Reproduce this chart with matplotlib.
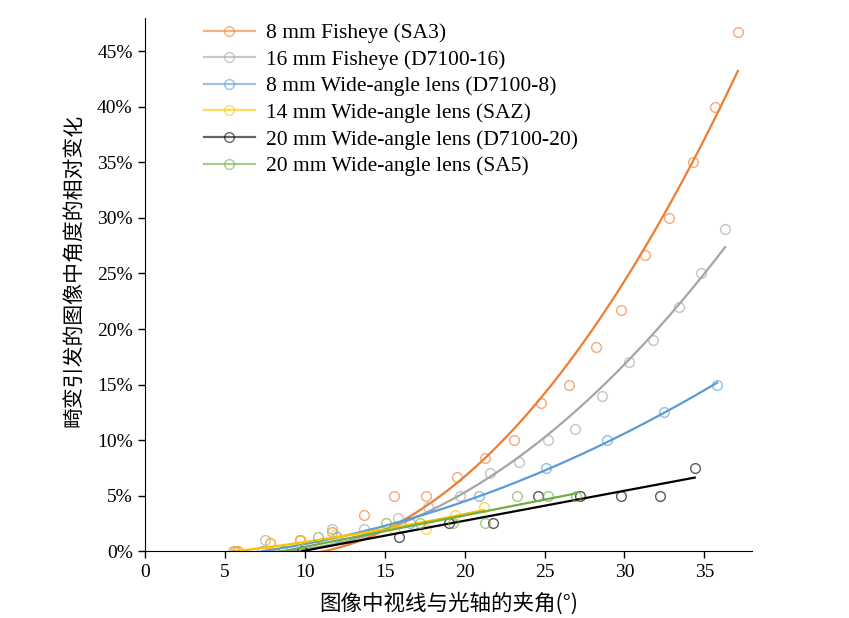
import matplotlib
matplotlib.use("Agg")
import matplotlib.pyplot as plt
import numpy as np
from matplotlib.lines import Line2D
from matplotlib.ticker import FuncFormatter, MultipleLocator

# viewing angle (deg) vs relative change of angle (%)
sa3_x = [5.6, 5.8, 7.8, 9.7, 11.7, 13.7, 15.6, 17.6, 19.5, 21.3, 23.1, 24.8, 26.5,
         28.2, 29.8, 31.3, 32.8, 34.3, 35.7, 37.1]
sa3_y = [0.0, 0.0, 0.7, 1.0, 1.7, 3.3, 5.0, 5.0, 6.7, 8.4, 10.0, 13.3, 15.0,
         18.4, 21.7, 26.7, 30.0, 35.0, 40.0, 46.7]

d16_x = [5.5, 7.5, 9.7, 11.7, 13.7, 15.8, 17.7, 19.7, 21.6, 23.4, 25.2, 26.9,
         28.6, 30.3, 31.8, 33.4, 34.8, 36.3]
d16_y = [0.0, 1.0, 1.0, 2.0, 2.0, 3.0, 4.0, 5.0, 7.0, 8.0, 10.0, 11.0,
         14.0, 17.0, 19.0, 22.0, 25.0, 29.0]

d8_x = [7.3, 12.0, 16.6, 20.9, 25.1, 28.9, 32.5, 35.8]
d8_y = [0.0, 1.25, 2.5, 5.0, 7.5, 10.0, 12.5, 15.0]

saz_x = [5.7, 7.8, 9.7, 11.9, 15.6, 17.6, 19.4, 21.2]
saz_y = [0.0, 0.7, 1.0, 1.5, 2.0, 2.0, 3.3, 4.0]

d20_x = [9.8, 15.9, 19.0, 21.8, 24.6, 27.2, 29.8, 32.2, 34.4]
d20_y = [0.0, 1.3, 2.5, 2.5, 5.0, 5.0, 5.0, 5.0, 7.5]

sa5_x = [8.6, 10.8, 15.1, 17.2, 19.3, 21.3, 23.3, 25.2, 27.0]
sa5_y = [0.0, 1.3, 2.5, 2.5, 2.5, 2.5, 5.0, 5.0, 5.0]

# label, x, y, colour, polynomial degree of the trend line
series = [
    ("8 mm Fisheye (SA3)", sa3_x, sa3_y, "#ED7D31", 2),
    ("16 mm Fisheye (D7100-16)", d16_x, d16_y, "#A5A5A5", 2),
    ("8 mm Wide-angle lens (D7100-8)", d8_x, d8_y, "#5B9BD5", 2),
    ("14 mm Wide-angle lens (SAZ)", saz_x, saz_y, "#FFC000", 2),
    ("20 mm Wide-angle lens (D7100-20)", d20_x, d20_y, "#000000", 1),
    ("20 mm Wide-angle lens (SA5)", sa5_x, sa5_y, "#70AD47", 1),
]


def anchored_fit(xs, ys, deg, xf):
    # least-squares polynomial forced through the first (zero) point
    d = xs - xs[0]
    A = np.column_stack([d ** k for k in range(1, deg + 1)])
    coef, *_ = np.linalg.lstsq(A, ys - ys[0], rcond=None)
    df = xf - xs[0]
    return ys[0] + sum(c * df ** (k + 1) for k, c in enumerate(coef))


serif = ["Liberation Serif", "DejaVu Serif"]
cjk = ["Noto Sans CJK SC", "DejaVu Sans"]
plt.rcParams["font.family"] = serif

fig = plt.figure(figsize=(8.49, 6.18), dpi=100)
ax = fig.add_axes([0.171, 0.108, 0.715, 0.863])

handles = []
for label, xs, ys, color, deg in series:
    xs = np.array(xs)
    ys = np.array(ys)
    ax.plot(xs, ys, "o", mfc="none", mec=color, mew=1.0, ms=7, alpha=0.65)
    xf = np.linspace(xs.min(), xs.max(), 200)
    ax.plot(xf, anchored_fit(xs, ys, deg, xf), color=color, lw=1.6)
    handles.append(Line2D([], [], color=color, lw=1.6, marker="o", mfc="none",
                          mec=color, ms=7, alpha=0.6, label=label))

ax.set_xlim(0, 38)
ax.set_ylim(0, 48)
ax.xaxis.set_major_locator(MultipleLocator(5))
ax.yaxis.set_major_locator(MultipleLocator(5))
ax.yaxis.set_major_formatter(FuncFormatter(lambda v, p: f"{v:.0f}%"))
for s in ("top", "right"):
    ax.spines[s].set_visible(False)
ax.tick_params(direction="out", length=5, labelsize=14, width=1, pad=4)

ax.set_xlabel("图像中视线与光轴的夹角(°)", family=cjk, fontsize=15.5, labelpad=8)
ax.set_ylabel("畸变引发的图像中角度的相对变化", family=cjk, fontsize=15)
ax.yaxis.set_label_coords(-0.10, 0.527)

ax.legend(handles=handles, loc="upper left", bbox_to_anchor=(0.082, 1.006),
          frameon=False, fontsize=15.5, handlelength=2.4, handletextpad=0.5,
          labelspacing=0.3, borderaxespad=0)

fig.savefig("out.png", dpi=100)
